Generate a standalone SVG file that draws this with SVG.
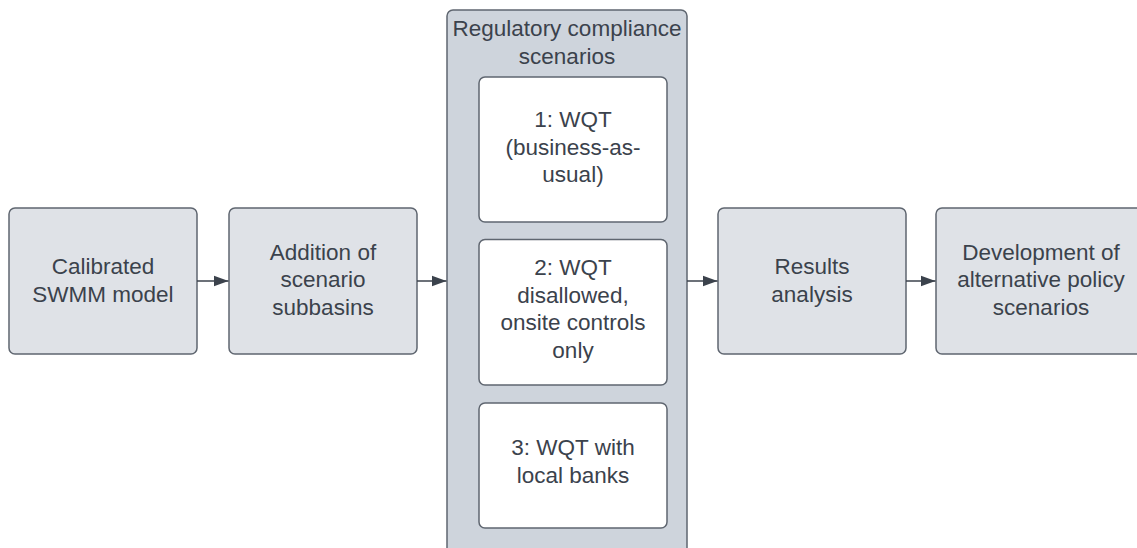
<svg xmlns="http://www.w3.org/2000/svg" width="1137" height="548" viewBox="0 0 1137 548">
<defs>
<style>
.box{fill:#dfe2e7;stroke:#5f6670;stroke-width:1.5}
.cont{fill:#ced4dc;stroke:#5f6670;stroke-width:1.5}
.inner{fill:#ffffff;stroke:#5f6670;stroke-width:1.5}
.t{font-family:"Liberation Sans",Arial,sans-serif;font-size:22.5px;fill:#3b424c;text-anchor:middle}
.edge{stroke:#3b424c;stroke-width:1.5;fill:none}
</style>
<marker id="ah" markerWidth="16" markerHeight="12" refX="15" refY="6" orient="auto" markerUnits="userSpaceOnUse">
<path d="M0,0.5 L15,6 L0,11.5 Z" fill="#3b424c"/>
</marker>
</defs>
<rect width="1137" height="548" fill="#ffffff"/>
<g id="container">
<rect class="cont" x="447" y="10" width="240" height="560" rx="6"/>
<text class="t"><tspan x="567" y="36">Regulatory compliance</tspan><tspan x="567" y="63.5">scenarios</tspan></text>
</g>
<g id="n1">
<rect class="box" x="9" y="208" width="188" height="146" rx="6"/>
<text class="t"><tspan x="103" y="274">Calibrated</tspan><tspan x="103" y="301.5">SWMM model</tspan></text>
</g>
<g id="n2">
<rect class="box" x="229" y="208" width="188" height="146" rx="6"/>
<text class="t"><tspan x="323" y="259.5">Addition of</tspan><tspan x="323" y="287">scenario</tspan><tspan x="323" y="314.5">subbasins</tspan></text>
</g>
<g id="s1">
<rect class="inner" x="479" y="77" width="188" height="145" rx="6"/>
<text class="t"><tspan x="573" y="127">1: WQT</tspan><tspan x="573" y="154.5">(business-as-</tspan><tspan x="573" y="182">usual)</tspan></text>
</g>
<g id="s2">
<rect class="inner" x="479" y="239.5" width="188" height="145.5" rx="6"/>
<text class="t"><tspan x="573" y="275">2: WQT</tspan><tspan x="573" y="302.5">disallowed,</tspan><tspan x="573" y="330">onsite controls</tspan><tspan x="573" y="357.5">only</tspan></text>
</g>
<g id="s3">
<rect class="inner" x="479" y="403" width="188" height="125" rx="6"/>
<text class="t"><tspan x="573" y="455">3: WQT with</tspan><tspan x="573" y="482.5">local banks</tspan></text>
</g>
<g id="n4">
<rect class="box" x="718" y="208" width="188" height="146" rx="6"/>
<text class="t"><tspan x="812" y="274">Results</tspan><tspan x="812" y="301.5">analysis</tspan></text>
</g>
<g id="n5">
<rect class="box" x="936" y="208" width="212" height="146" rx="6"/>
<text class="t"><tspan x="1041" y="259.5">Development of</tspan><tspan x="1041" y="287">alternative policy</tspan><tspan x="1041" y="314.5">scenarios</tspan></text>
</g>
<g id="connectors">
<line class="edge" x1="197" y1="281" x2="228.5" y2="281" marker-end="url(#ah)"/>
<line class="edge" x1="417" y1="281" x2="446.5" y2="281" marker-end="url(#ah)"/>
<line class="edge" x1="687" y1="281" x2="717.5" y2="281" marker-end="url(#ah)"/>
<line class="edge" x1="906" y1="281" x2="935.5" y2="281" marker-end="url(#ah)"/>
</g>
</svg>
